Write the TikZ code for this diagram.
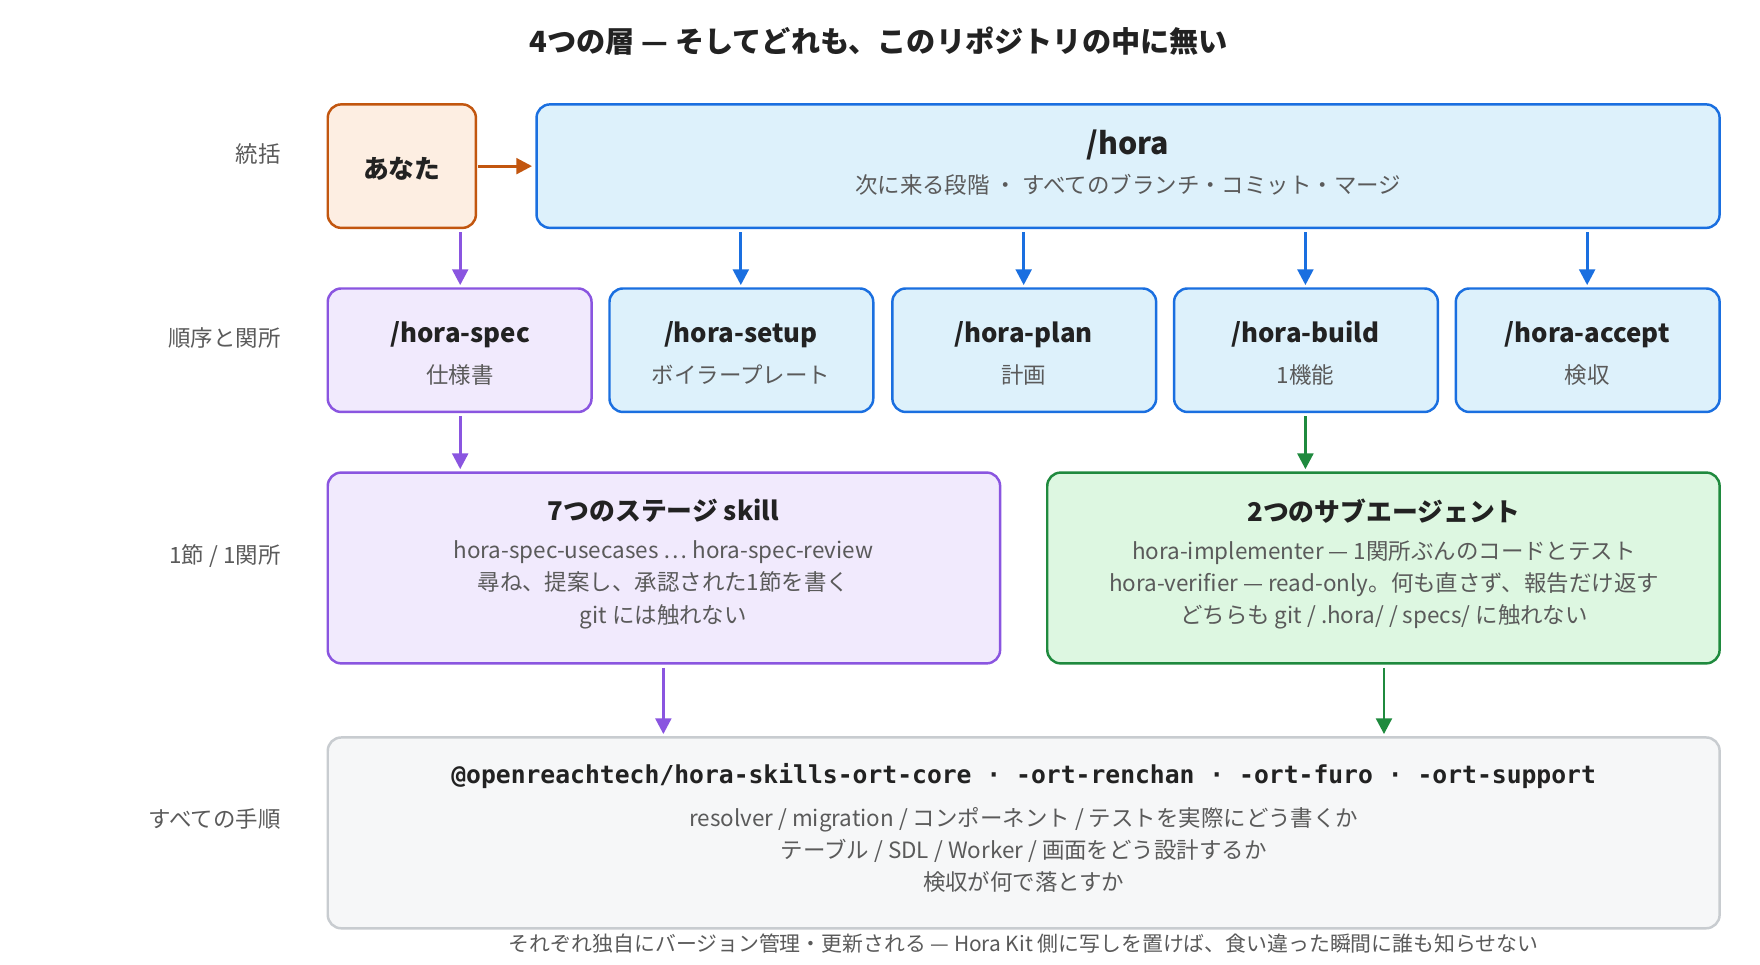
\documentclass[tikz,border=0pt]{standalone}
\usepackage{fontspec}
\setmainfont{Noto Sans CJK JP}
\newfontfamily\monof{DejaVu Sans Mono}
\usetikzlibrary{arrows.meta}
\definecolor{txt}{HTML}{222222}
\definecolor{sub}{HTML}{5A5A5A}
\definecolor{oF}{HTML}{FDEEE2}\definecolor{oD}{HTML}{C2560F}
\definecolor{bF}{HTML}{DDF1FB}\definecolor{bD}{HTML}{1A6FE0}
\definecolor{pF}{HTML}{F1EAFD}\definecolor{pD}{HTML}{8A55E0}
\definecolor{gF}{HTML}{DDF7E1}\definecolor{gD}{HTML}{1F8A3E}
\definecolor{kF}{HTML}{F6F7F8}\definecolor{kD}{HTML}{C8CCD0}
\tikzset{
 bx/.style={draw=#1D,fill=#1F,line width=1.1pt,rounded corners=6pt,inner sep=0pt},
 ar/.style={draw=#1,line width=1.3pt,-{Triangle[length=7pt,width=7pt]}},
 lab/.style={anchor=east,text=sub,font=\fontsize{10}{12}\selectfont},
 ttl/.style={text=txt,font=\fontsize{11.5}{14}\selectfont\bfseries},
 sb/.style={text=sub,font=\fontsize{10}{14}\selectfont,align=center},
}
\begin{document}
\begin{tikzpicture}[x=0.5pt,y=-0.5pt]
\useasboundingbox[fill=white] (0,0) rectangle (1568,859);
\node[text=txt,font=\fontsize{13}{15}\selectfont\bfseries] (title) at (783,37) {4つの層 — そしてどれも、このリポジトリの中に無い};
% labels
\node[lab] (l1) at (257,137) {統括};
\node[lab] (l2) at (257,301) {順序と関所};
\node[lab] (l3) at (257,495) {1節 / 1関所};
\node[lab] (l4) at (257,730) {すべての手順};
% row1
\draw[bx=o] (292,93) rectangle (424,203);
\node[ttl] (you) at (358,150) {あなた};
\coordinate (youE) at (426,148);
\draw[bx=b] (478,93) rectangle (1532,203);
\node[text=txt,font=\fontsize{13.5}{16}\selectfont\bfseries] (hora) at (1005,129) {/hora};
\node[sb] (horas) at (1005,165) {次に来る段階 ・ すべてのブランチ・コミット・マージ};
\coordinate (horaW) at (474,148);
\draw[ar=oD] (youE) -- (horaW);
% row2
\draw[bx=p] (292,257) rectangle (527,367);
\foreach \xa/\xb in {543/778,795/1030,1046/1281,1297/1532}
  \draw[bx=b] (\xa,257) rectangle (\xb,367);
\node[ttl] (s1) at (410,298) {/hora-spec}; \node[sb] at (410,334) {仕様書};
\node[ttl] (s2) at (660,298) {/hora-setup}; \node[sb] at (660,334) {ボイラープレート};
\node[ttl] (s3) at (912,298) {/hora-plan}; \node[sb] at (912,334) {計画};
\node[ttl] (s4) at (1163,298) {/hora-build}; \node[sb] at (1163,334) {1機能};
\node[ttl] (s5) at (1414,298) {/hora-accept}; \node[sb] at (1414,334) {検収};
\foreach \x in {660,912,1163,1414}
  \draw[ar=bD] (\x,207) -- (\x,254);
\draw[ar=pD] (410,207) -- (410,254);
% row3
\draw[bx=p] (292,421) rectangle (891,591);
\node[ttl] (st) at (591,455) {7つのステージ skill};
\node[sb,font=\fontsize{10}{14.3}\selectfont] at (591,521) {hora-spec-usecases … hora-spec-review\\尋ね、提案し、承認された1節を書く\\git には触れない};
\draw[bx=g] (933,421) rectangle (1532,591);
\node[ttl] (ag) at (1233,455) {2つのサブエージェント};
\node[sb,font=\fontsize{10}{14.3}\selectfont] at (1233,521) {hora-implementer — 1関所ぶんのコードとテスト\\hora-verifier — read-only。何も直さず、報告だけ返す\\どちらも git / .hora/ / specs/ に触れない};
\draw[ar=pD] (410,371) -- (410,418);
\draw[ar=gD] (1163,371) -- (1163,418);
% row4
\draw[bx=k] (292,657) rectangle (1532,827);
\node[text=txt,font=\monof\fontsize{11}{13}\selectfont\bfseries] (pk) at (912,691) {@openreachtech/hora-skills-ort-core · -ort-renchan · -ort-furo · -ort-support};
\node[sb,font=\fontsize{10}{14.3}\selectfont] at (912,757) {resolver / migration / コンポーネント / テストを実際にどう書くか\\テーブル / SDL / Worker / 画面をどう設計するか\\検収が何で落とすか};
\draw[ar=pD] (591,595) -- (591,654);
\draw[ar=gD] (1233,595) -- (1233,654);
\node[sb,font=\fontsize{9.3}{11}\selectfont] (foot) at (912,841) {それぞれ独自にバージョン管理・更新される — Hora Kit 側に写しを置けば、食い違った瞬間に誰も知らせない};
\end{tikzpicture}
\end{document}
